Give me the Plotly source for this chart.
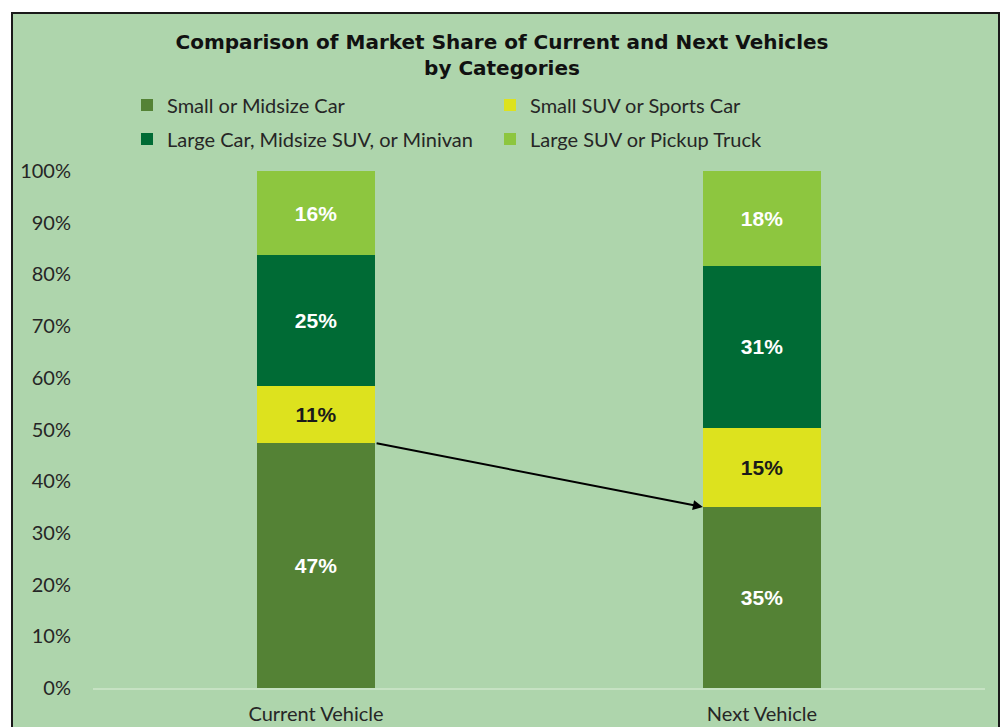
import plotly.graph_objects as go

categories = ["Current Vehicle", "Next Vehicle"]
series_names = ["Small or Midsize Car", "Small SUV or Sports Car",
                "Large Car, Midsize SUV, or Minivan", "Large SUV or Pickup Truck"]
small_midsize_car = [47.4, 35.0]
small_suv_sports = [11.0, 15.3]
large_car_midsize_suv = [25.3, 31.4]
large_suv_pickup = [16.3, 18.3]
y_ticks = [0, 10, 20, 30, 40, 50, 60, 70, 80, 90, 100]
y_tick_labels = [f"{v}%" for v in y_ticks]

colors = ["#548235", "#DDE21E", "#006B35", "#8DC63F"]
text_colors = ["white", "#1a1a1a", "white", "white"]
series_vals = [small_midsize_car, small_suv_sports, large_car_midsize_suv, large_suv_pickup]
legend_ids = ["legend", "legend", "legend2", "legend2"]

W, H = 1004, 727
ML, MR, MT, MB = 93, 19, 171, 39
PW, PH = W - ML - MR, H - MT - MB

def px_x(p):
    return (p - ML) / PW

def px_y(p):
    return (H - MB - p) / PH

fig = go.Figure()
for name, vals, col, tcol, lg in zip(series_names, series_vals, colors, text_colors, legend_ids):
    fig.add_trace(go.Bar(
        x=categories, y=vals, name=name,
        marker=dict(color=col, line=dict(width=0)),
        text=vals, texttemplate="%{text:.0f}%",
        textposition="inside", insidetextanchor="middle",
        textfont=dict(family="Liberation Sans, Arial", size=21, color=tcol, weight="bold"),
        legend=lg,
        hoverinfo="skip",
    ))

bar_gap = 0.735
half_w = (1 - bar_gap) / 2

# arrow from top-right of current small car bar to next small car top-left
fig.add_annotation(
    x=1 - half_w, y=small_midsize_car[1],
    ax=0 + half_w, ay=small_midsize_car[0],
    xref="x", yref="y", axref="x", ayref="y",
    showarrow=True, arrowhead=2, arrowsize=1, arrowwidth=2, arrowcolor="#000000",
    text="",
)

# framed green background
fig.add_shape(type="rect", xref="paper", yref="paper",
              x0=px_x(12), x1=px_x(999), y0=px_y(760), y1=px_y(13),
              fillcolor="#AED5AC", line=dict(color="#1a1a1a", width=2), layer="below")

legend_common = dict(
    orientation="h", xanchor="left", yanchor="middle",
    entrywidth=318, entrywidthmode="pixels",
    font=dict(family="Lato, sans-serif", size=20, color="#262626"),
    bgcolor="rgba(0,0,0,0)", itemclick=False, itemdoubleclick=False,
    itemwidth=30, traceorder="normal",
)

fig.update_layout(
    width=W, height=H,
    margin=dict(l=ML, r=MR, t=MT, b=MB, autoexpand=False),
    paper_bgcolor="white", plot_bgcolor="rgba(0,0,0,0)",
    barmode="stack", bargap=bar_gap,
    title=dict(
        text="<b>Comparison of Market Share of Current and Next Vehicles<br>by Categories</b>",
        x=0.5, xref="container", xanchor="center",
        y=1 - 49 / H, yref="container", yanchor="top",
        font=dict(family="DejaVu Sans, sans-serif", size=20, color="#111111"),
    ),
    legend=dict(x=px_x(127), y=px_y(105), **legend_common),
    legend2=dict(x=px_x(127), y=px_y(139), **legend_common),
    xaxis=dict(
        showgrid=False, zeroline=False, automargin=False,
        showline=True, linecolor="#C6E2C3", linewidth=2,
        ticks="outside", ticklen=7, tickcolor="rgba(0,0,0,0)",
        tickfont=dict(family="Lato, sans-serif", size=20, color="#262626"),
    ),
    yaxis=dict(
        range=[0, 100], tickvals=y_ticks, ticktext=y_tick_labels,
        showgrid=False, zeroline=False, showline=False, automargin=False,
        ticks="outside", ticklen=17, tickcolor="rgba(0,0,0,0)",
        tickfont=dict(family="Lato, sans-serif", size=20, color="#262626"),
    ),
    showlegend=True,
)

fig.write_html("out.html")
